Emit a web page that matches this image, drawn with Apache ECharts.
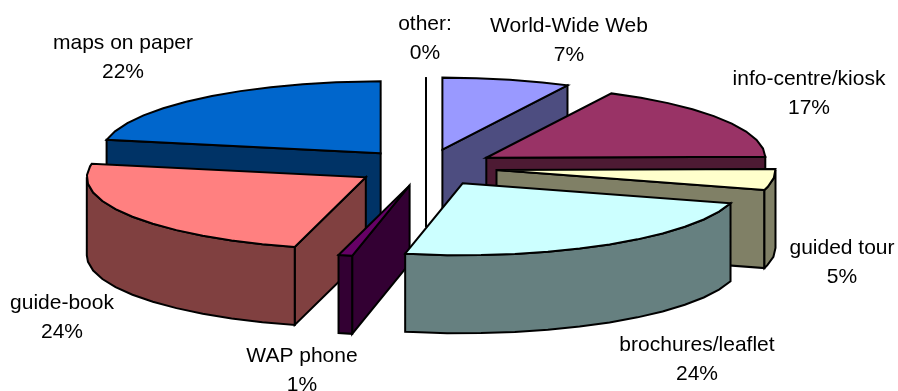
<!DOCTYPE html>
<html>
<head>
<meta charset="utf-8">
<style>html,body{margin:0;padding:0;background:#fff}#c{width:898px;height:391px}</style>
<script src="https://cdn.jsdelivr.net/npm/echarts@6/dist/echarts.min.js"></script>
</head>
<body>
<div id="c"></div>
<script>
// Data, in pie order, clockwise from 12 o'clock
const categories = ['World-Wide Web', 'info-centre/kiosk', 'guided tour', 'brochures/leaflet', 'WAP phone', 'guide-book', 'maps on paper', 'other:'];
const values = [7.4, 17.4, 4.7, 23.8, 0.8, 23.9, 22, 0];
const topColors = ['#9999FF', '#993366', '#FFFFCC', '#CCFFFF', '#660066', '#FF8080', '#0066CC', '#FFFFFF'];
const sideColors = ['#4D4D80', '#4D1A33', '#808066', '#668080', '#330033', '#804040', '#003366', '#808080'];
// Painter's order (indices into categories), back to front
const paintOrder = [6, 7, 0, 1, 2, 5, 4, 3];
// Label centres [x, first line y]
const labelAnchors = [[569, 25], [809, 78], [842, 247], [697, 344], [302, 355], [62, 302], [123, 42], [425, 23]];

// Projection of the tilted pie
const CX = 426, CY = 167.5, RX = 279, RY = 72, DEPTH = 78, EXPLODE = 0.255, STEP = 7;
const total = values.reduce((a, b) => a + b, 0);
const rad = d => d * Math.PI / 180;
let acc = 0;
const slices = values.map(v => {
  const s = acc / total * 360;
  acc += v;
  const e = acc / total * 360;
  const m = rad((s + e) / 2);
  const ax = CX + EXPLODE * RX * Math.sin(m);
  const ay = CY - EXPLODE * RY * Math.cos(m);
  return { v, s, e, ax, ay };
});
const rim = (sl, deg) => [sl.ax + RX * Math.sin(rad(deg)), sl.ay - RY * Math.cos(rad(deg))];
const arc = (sl, a, b) => {
  const pts = [];
  for (let d = a; d < b; d += STEP) pts.push(rim(sl, d));
  pts.push(rim(sl, b));
  return pts;
};
const down = p => [p[0], p[1] + DEPTH];

function poly(points, fill) {
  return {
    type: 'polygon',
    shape: { points },
    style: { fill, stroke: '#000', lineWidth: 2, lineJoin: 'miter', miterLimit: 6 }
  };
}

function renderItem(params, api) {
  const i = api.value(0);
  const sl = slices[i];
  const side = sideColors[i];
  const children = [];
  const apex = [sl.ax, sl.ay];
  const edgeWall = deg => {
    const r = rim(sl, deg);
    return poly([apex, r, down(r), down(apex)], side);
  };
  // radial walls that face the viewer
  if (sl.v === 0 || Math.sin(rad(sl.s)) < -1e-6) children.push(edgeWall(sl.s));
  if (Math.sin(rad(sl.e)) > 1e-6) children.push(edgeWall(sl.e));
  // outer rim wall, front half only
  const a = Math.max(sl.s, 90), b = Math.min(sl.e, 270);
  if (b > a) {
    const top = arc(sl, a, b);
    children.push(poly(top.concat(top.slice().reverse().map(down)), side));
  }
  // top face
  if (sl.v === 0) {
    children.push(poly([apex, rim(sl, sl.s)], topColors[i]));
  } else {
    children.push(poly([apex].concat(arc(sl, sl.s, sl.e)), topColors[i]));
  }
  return { type: 'group', children };
}

function labelItem(params, api) {
  const i = api.value(0);
  const [x, y] = labelAnchors[i];
  return {
    type: 'text',
    style: {
      x, y,
      text: categories[i] + '\n' + Math.round(values[i]) + '%',
      fill: '#000',
      font: '21px "Liberation Sans", Arial, sans-serif',
      lineHeight: 29,
      align: 'center',
      verticalAlign: 'top'
    },
    y: -13
  };
}

const chart = echarts.init(document.getElementById('c'), null, { renderer: 'canvas' });
chart.setOption({
  animation: false,
  backgroundColor: '#fff',
  series: [
    {
      type: 'custom',
      coordinateSystem: 'none',
      renderItem,
      silent: true,
      z: 1,
      data: paintOrder.map(i => [i, values[i]])
    },
    {
      type: 'custom',
      coordinateSystem: 'none',
      renderItem: labelItem,
      silent: true,
      z: 2,
      data: categories.map((c, i) => [i, values[i]])
    }
  ]
});
</script>
</body>
</html>
